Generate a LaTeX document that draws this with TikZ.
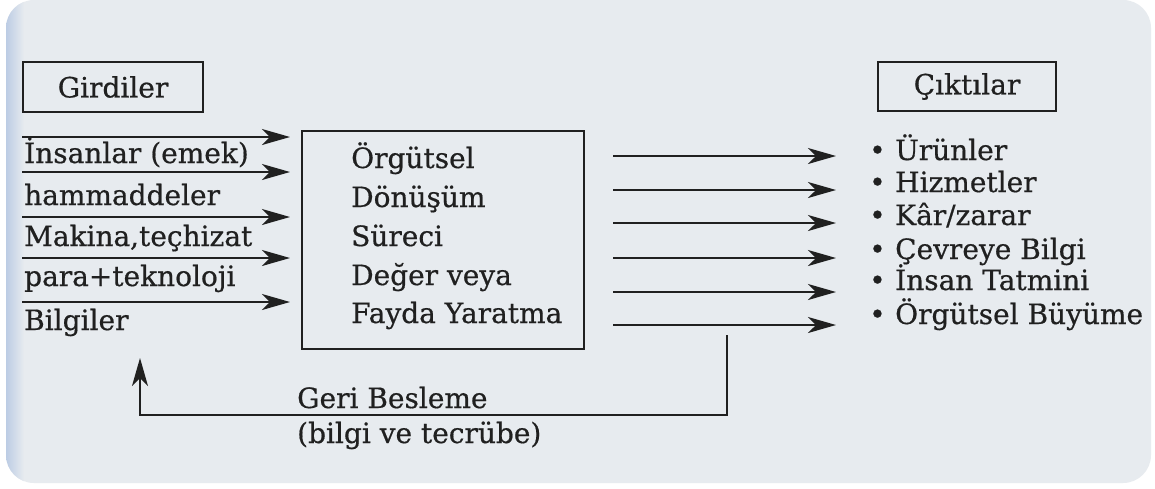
\documentclass[tikz,border=0pt]{standalone}
\usepackage{fontspec}
\setmainfont[FakeBold=0.6]{DejaVu Serif}
\usetikzlibrary{arrows.meta}
\definecolor{bg}{RGB}{231,235,239}
\definecolor{edge}{RGB}{188,204,228}
\definecolor{ink}{RGB}{32,32,32}
\begin{document}
\begin{tikzpicture}[x=1pt,y=-1pt,
  boxed/.style={draw=ink, line width=1.8pt, inner sep=0pt},
  lbl/.style={anchor=base west, inner sep=0pt, text=ink, font=\fontsize{28}{32}\selectfont},
  ttl/.style={boxed, text=ink, font=\fontsize{28}{32}\selectfont},
  arr/.style={draw=ink, line width=1.8pt, -{Stealth[length=28pt,width=16pt,inset=8pt]}}]
\useasboundingbox (0,0) rectangle (1155,488);
\fill[white] (0,0) rectangle (1155,488);
\begin{scope}
  \clip[rounded corners=28pt] (6,0) rectangle (1151,483);
  \fill[bg] (0,0) rectangle (1155,488);
  \shade[left color=edge, right color=bg] (6,0) rectangle (24,483);
\end{scope}
% titles
\node[ttl, minimum width=180pt, minimum height=50pt] (gird) at (113,87) {Girdiler};
\node[ttl, minimum width=178pt, minimum height=49pt] (cikt) at (967,86.5) {Çıktılar};
% process box
\node[boxed, anchor=north west, minimum width=282pt, minimum height=218pt] (proc) at (301,130) {};
\node[lbl] (p1) at (351,168) {Örgütsel};
\node[lbl] (p2) at (351,207) {Dönüşüm};
\node[lbl] (p3) at (351,246) {Süreci};
\node[lbl] (p4) at (351,285) {Değer veya};
\node[lbl] (p5) at (351,323) {Fayda Yaratma};
% inputs
\node[lbl] (n1) at (24,163) {İnsanlar (emek)};
\node[lbl] (n2) at (24,205) {hammaddeler};
\node[lbl] (n3) at (24,246) {Makina,teçhizat};
\node[lbl] (n4) at (24,286) {para+teknoloji};
\node[lbl] (n5) at (24,330) {Bilgiler};
\foreach \i/\y in {1/137,2/172,3/217,4/258,5/302}{
  \coordinate (is\i) at (22,\y);
  \draw[arr, shorten >=11pt] (is\i) -- (is\i -| proc.west);
}
% outputs
\node[lbl] (o1) at (869,160) {\makebox[26pt][l]{•}Ürünler};
\node[lbl] (o2) at (869,192) {\makebox[26pt][l]{•}Hizmetler};
\node[lbl] (o3) at (869,225) {\makebox[26pt][l]{•}Kâr/zarar};
\node[lbl] (o4) at (869,259) {\makebox[26pt][l]{•}Çevreye Bilgi};
\node[lbl] (o5) at (869,290) {\makebox[26pt][l]{•}İnsan Tatmini};
\node[lbl] (o6) at (869,324) {\makebox[26pt][l]{•}Örgütsel Büyüme};
\foreach \i/\y in {1/156,2/190,3/223,4/258,5/292,6/325}{
  \coordinate (os\i) at (613,\y);
  \coordinate (oe\i) at (836,\y);
  \draw[arr] (os\i) -- (oe\i);
}
% feedback
\coordinate (fbtop) at (727,335);
\coordinate (fbcorner) at (727,415);
\coordinate (fbtip) at (140,358);
\draw[arr] (fbtop) -- (fbcorner) -| (fbtip);
\node[lbl] (g1) at (297,408) {Geri Besleme};
\node[lbl] (g2) at (297,443) {(bilgi ve tecrübe)};
\end{tikzpicture}
\end{document}
